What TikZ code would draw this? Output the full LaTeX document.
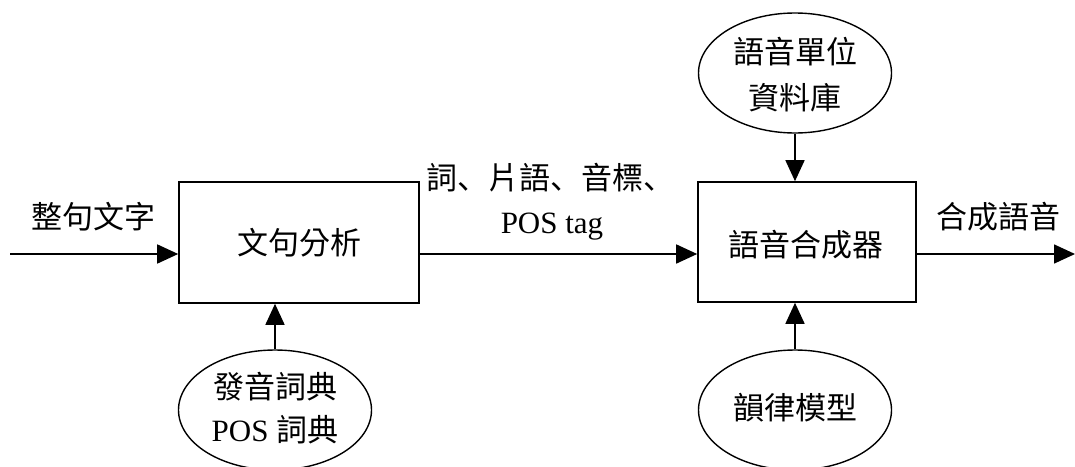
\documentclass[tikz,border=0pt]{standalone}
\usepackage{fontspec}
\setmainfont{Liberation Serif}
\newfontfamily\cjk{Noto Sans CJK TC}
\newfontfamily\cjkpunct{Noto Sans CJK SC}
\usetikzlibrary{arrows.meta,shapes.geometric}
\tikzset{
  arr/.style={line width=1.6pt,-{Triangle[length=21pt,width=19pt]}},
  procbox/.style={draw,line width=1.6pt,rectangle,inner sep=0pt},
  store/.style={draw,line width=1.4pt,ellipse,inner sep=0pt,minimum width=193pt,minimum height=120pt},
  lbl/.style={inner sep=0pt,font=\fontsize{31pt}{45pt}\selectfont,align=center},
}
\newcommand{\dun}{{\cjkpunct 、}}
\begin{document}
\begin{tikzpicture}[x=1pt,y=-1pt]
\useasboundingbox (0,0) rectangle (1075,466);
\node[procbox,minimum width=240pt,minimum height=121pt] (ana) at (299,242.5) {};
\node[procbox,minimum width=218pt,minimum height=120pt] (syn) at (807,242) {};
\node[lbl] (anat) at (299,243) {\cjk 文句分析};
\node[lbl] (synt) at (806,245) {\cjk 語音合成器};
\node[store] (db) at (795,73) {};
\node[store] (dic) at (275,410) {};
\node[store] (pro) at (795,410) {};
\node[lbl] (dbt1) at (795,52) {\cjk 語音單位};
\node[lbl] (dbt2) at (795,98) {\cjk 資料庫};
\node[lbl] (dict1) at (275,387) {\cjk 發音詞典};
\node[lbl] (dict2) at (275,430) {POS {\cjk 詞典}};
\node[lbl] (prot) at (795,408) {\cjk 韻律模型};
\node[lbl] (int) at (93,217) {\cjk 整句文字};
\node[lbl] (midt1) at (550,178) {\cjk 詞\dun 片語\dun 音標\dun};
\node[lbl] (midt2) at (552,227) {POS tag};
\node[lbl] (outt) at (998,217) {\cjk 合成語音};
\coordinate (inL) at (10,254);
\coordinate (outR) at (1075,254);
\draw[arr] (inL) -- (inL -| ana.west);
\draw[arr] (ana.east |- inL) -- (syn.west |- inL);
\draw[arr] (syn.east |- inL) -- (outR);
\draw[arr] (db.south) -- (db.south |- syn.north);
\draw[arr] (dic.north) -- (dic.north |- ana.south);
\draw[arr] (pro.north) -- (pro.north |- syn.south);
\end{tikzpicture}
\end{document}
